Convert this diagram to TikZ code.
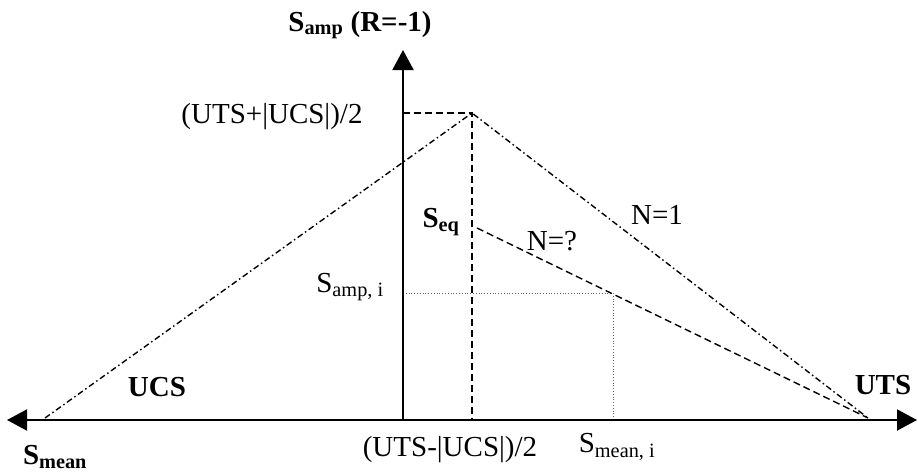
\documentclass[tikz,border=0pt]{standalone}
\usepackage{fontspec}
\setmainfont{Liberation Serif}
\usetikzlibrary{arrows.meta}

\tikzset{
	axisline/.style={line width=2pt, >={Triangle[length=20pt,width=21pt]}},
	nline/.style={line width=1.4pt, dash pattern=on 6pt off 3pt on 1.5pt off 3pt},
	eqline/.style={line width=1.4pt, dash pattern=on 7pt off 4pt},
	guide/.style={line width=0.8pt, dotted, black!60},
	lbl/.style={inner sep=0pt, font=\fontsize{29}{32}\selectfont},
	blbl/.style={inner sep=0pt, font=\fontsize{29}{32}\selectfont\bfseries},
}

\begin{document}
\begin{tikzpicture}[x=1pt, y=-1pt]
		\useasboundingbox (0,0) rectangle (918,472);
		% points of the diagram
		\coordinate (origin) at (403,420);
		\coordinate (lefttip) at (7,420);
		\coordinate (righttip) at (917,420);
		\coordinate (toptip) at (403,50);
		\coordinate (peak) at (472,113);
		\coordinate (peakaxis) at (403,113);
		\coordinate (peakbase) at (472,420);
		\coordinate (ucspt) at (45,418);
		\coordinate (utspt) at (868,418);
		\coordinate (eqpt) at (477,228);
		\coordinate (ipt) at (613,293);
		\coordinate (iaxis) at (403,293);
		\coordinate (ibase) at (613,420);
		% dotted guides
		\draw[guide] (iaxis) -- (ipt) -- (ibase);
		% axes
		\draw[axisline, <->] (lefttip) -- (righttip);
		\draw[axisline, ->] (origin) -- (toptip);
		% N=1 lines
		\draw[nline] (ucspt) -- (peak) -- (utspt);
		% peak guides and N=? line
		\draw[eqline] (peakaxis) -- (peak) -- (peakbase);
		\draw[eqline] (eqpt) -- (utspt);
		% labels
		\node[blbl] (samp) at (360,25) {S\textsubscript{amp} (R=-1)};
		\node[lbl] (sumlbl) at (272,117) {(UTS+|UCS|)/2};
		\node[blbl] (seq) at (441,222) {S\textsubscript{eq}};
		\node[lbl] (n1) at (657,215) {N=1};
		\node[lbl] (nq) at (552,241) {N=?};
		\node[lbl] (sampi) at (350,287) {S\textsubscript{amp, i}};
		\node[blbl] (ucs) at (157,387) {UCS};
		\node[blbl] (uts) at (883,385) {UTS};
		\node[blbl] (smean) at (55,457) {S\textsubscript{mean}};
		\node[lbl] (difflbl) at (450,450) {(UTS-|UCS|)/2};
		\node[lbl] (smeani) at (617,447) {S\textsubscript{mean, i}};
	\end{tikzpicture}
\end{document}
